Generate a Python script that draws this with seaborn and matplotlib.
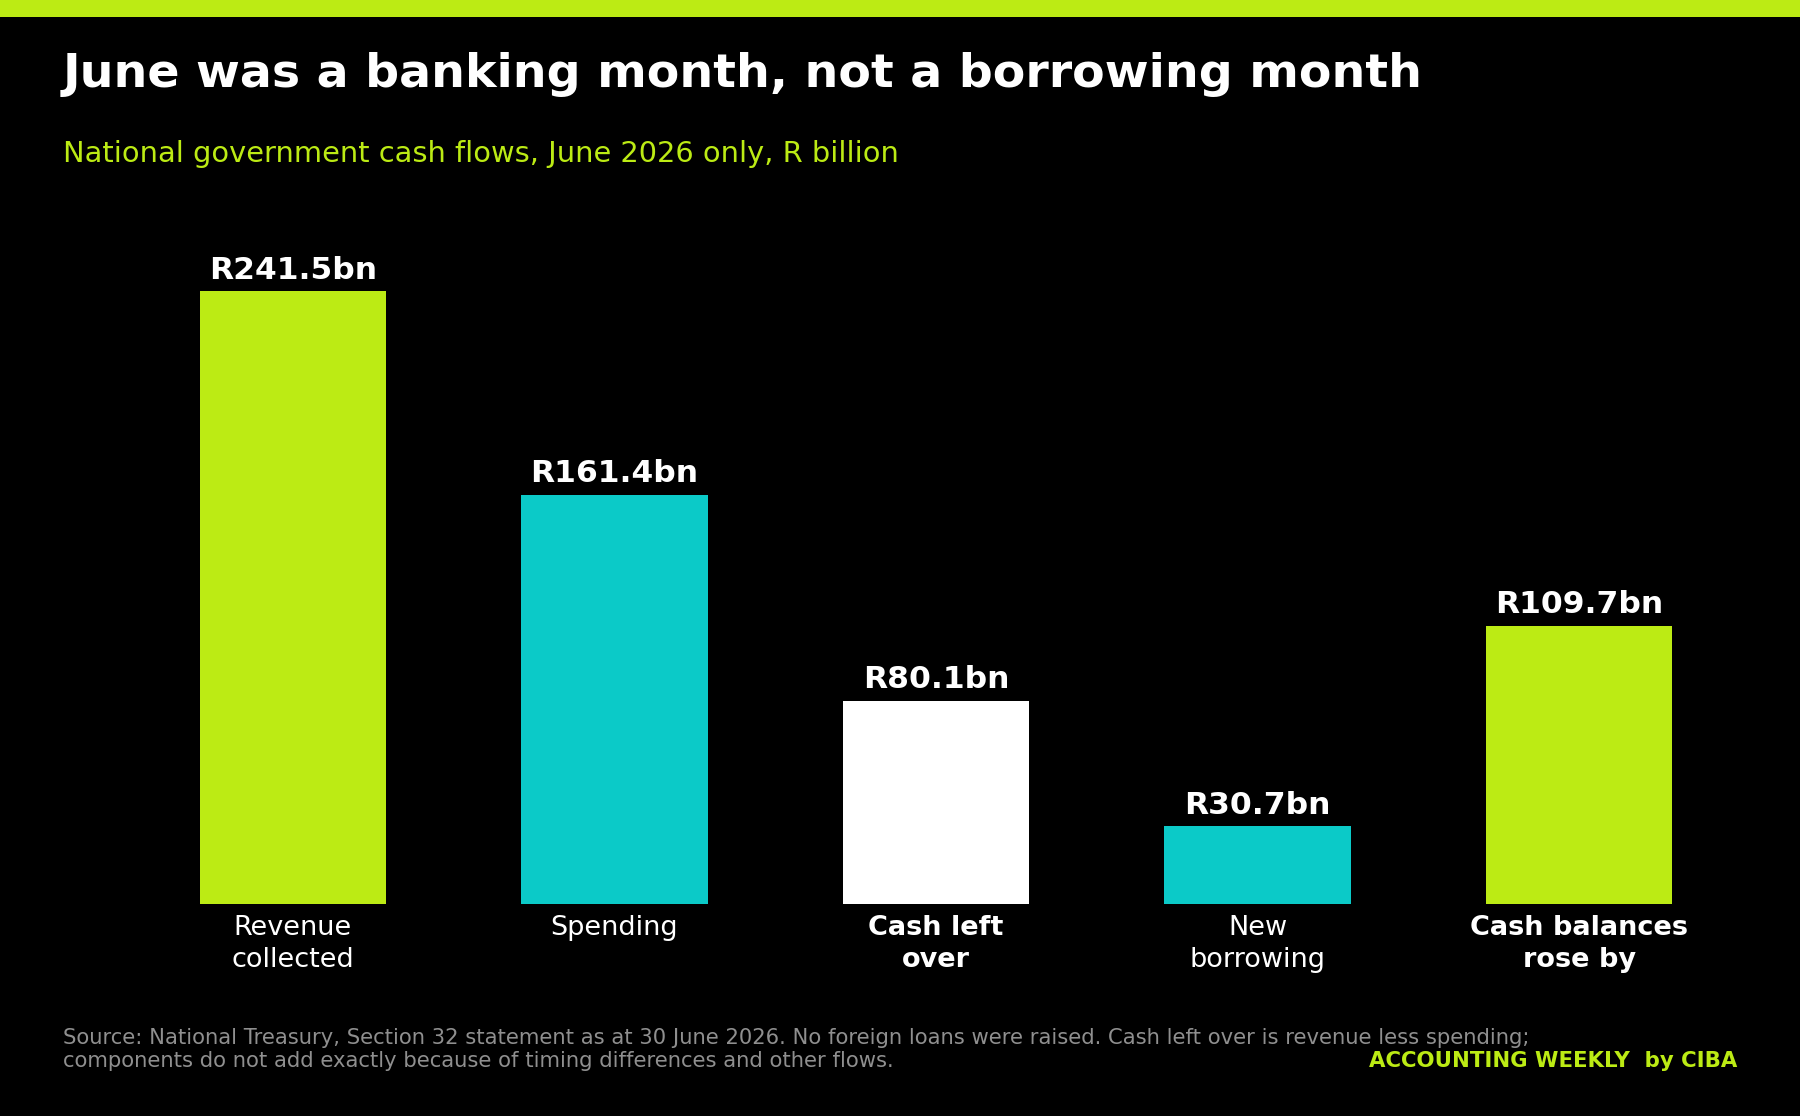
import matplotlib
matplotlib.use("Agg")
import matplotlib.pyplot as plt
from matplotlib.patches import Rectangle
import seaborn as sns
import pandas as pd

# ---- data ----
categories = ["Revenue\ncollected", "Spending", "Cash left\nover", "New\nborrowing", "Cash balances\nrose by"]
values = [241.5, 161.4, 80.1, 30.7, 109.7]
value_labels = ["R241.5bn", "R161.4bn", "R80.1bn", "R30.7bn", "R109.7bn"]
bold_ticks = [False, False, True, False, True]

LIME = "#BCEB14"
TEAL = "#0BCAC8"
WHITE = "#FFFFFF"
bar_colors = [LIME, TEAL, WHITE, TEAL, LIME]

title = "June was a banking month, not a borrowing month"
subtitle = "National government cash flows, June 2026 only, R billion"
source_1 = "Source: National Treasury, Section 32 statement as at 30 June 2026. No foreign loans were raised. Cash left over is revenue less spending;"
source_2 = "components do not add exactly because of timing differences and other flows."
brand = "ACCOUNTING WEEKLY  by CIBA"

sns.set_theme(style="white")
plt.rcParams["font.family"] = ["DejaVu Sans"]

W, H = 1800, 1116
fig = plt.figure(figsize=(W / 100, H / 100), dpi=100, facecolor="black")

ax = fig.add_axes([132 / W, 212 / H, 1608 / W, 685 / H])
ax.set_facecolor("black")

df = pd.DataFrame({"cat": categories, "val": values})
sns.barplot(data=df, x="cat", y="val", hue="cat", palette=bar_colors,
            width=0.58, saturation=1, legend=False, ax=ax, order=categories,
            hue_order=categories, linewidth=0, edgecolor="none")

ax.set_xlim(-0.5, len(categories) - 0.5)
ax.set_ylim(0, 270)
for s in ax.spines.values():
    s.set_visible(False)
ax.set_yticks([])
ax.set_xlabel("")
ax.set_ylabel("")
ax.set_xticks(range(len(categories)))
ax.set_xticklabels(categories)
ax.tick_params(axis="x", length=0, pad=8, labelsize=19.5, colors="white")
for lbl, b in zip(ax.get_xticklabels(), bold_ticks):
    lbl.set_fontweight("bold" if b else "normal")
    lbl.set_color("white")
    lbl.set_linespacing(1.3)

for i, (v, t) in enumerate(zip(values, value_labels)):
    ax.annotate(t, xy=(i, v), xytext=(0, 9), textcoords="offset points",
                ha="center", va="baseline", fontsize=22.6, fontweight="bold",
                color="white")

# top accent bar
fig.add_artist(Rectangle((0, 1 - 17 / H), 1, 17 / H, transform=fig.transFigure,
                         facecolor=LIME, edgecolor="none"))

fig.text(63 / W, 1 - 87 / H, title, fontsize=34.2, fontweight="bold",
         color="white", ha="left", va="baseline")
fig.text(63 / W, 1 - 162 / H, subtitle, fontsize=20.75, color=LIME,
         ha="left", va="baseline")

fig.text(63 / W, 1 - 1044 / H, source_1, fontsize=15.2, color="#8f8f8f",
         ha="left", va="baseline")
fig.text(63 / W, 1 - 1067 / H, source_2, fontsize=15.2, color="#8f8f8f",
         ha="left", va="baseline")
fig.text(1737 / W, 1 - 1067 / H, brand, fontsize=15.3, fontweight="bold",
         color=LIME, ha="right", va="baseline")

fig.savefig("out.png", dpi=100, facecolor="black")
